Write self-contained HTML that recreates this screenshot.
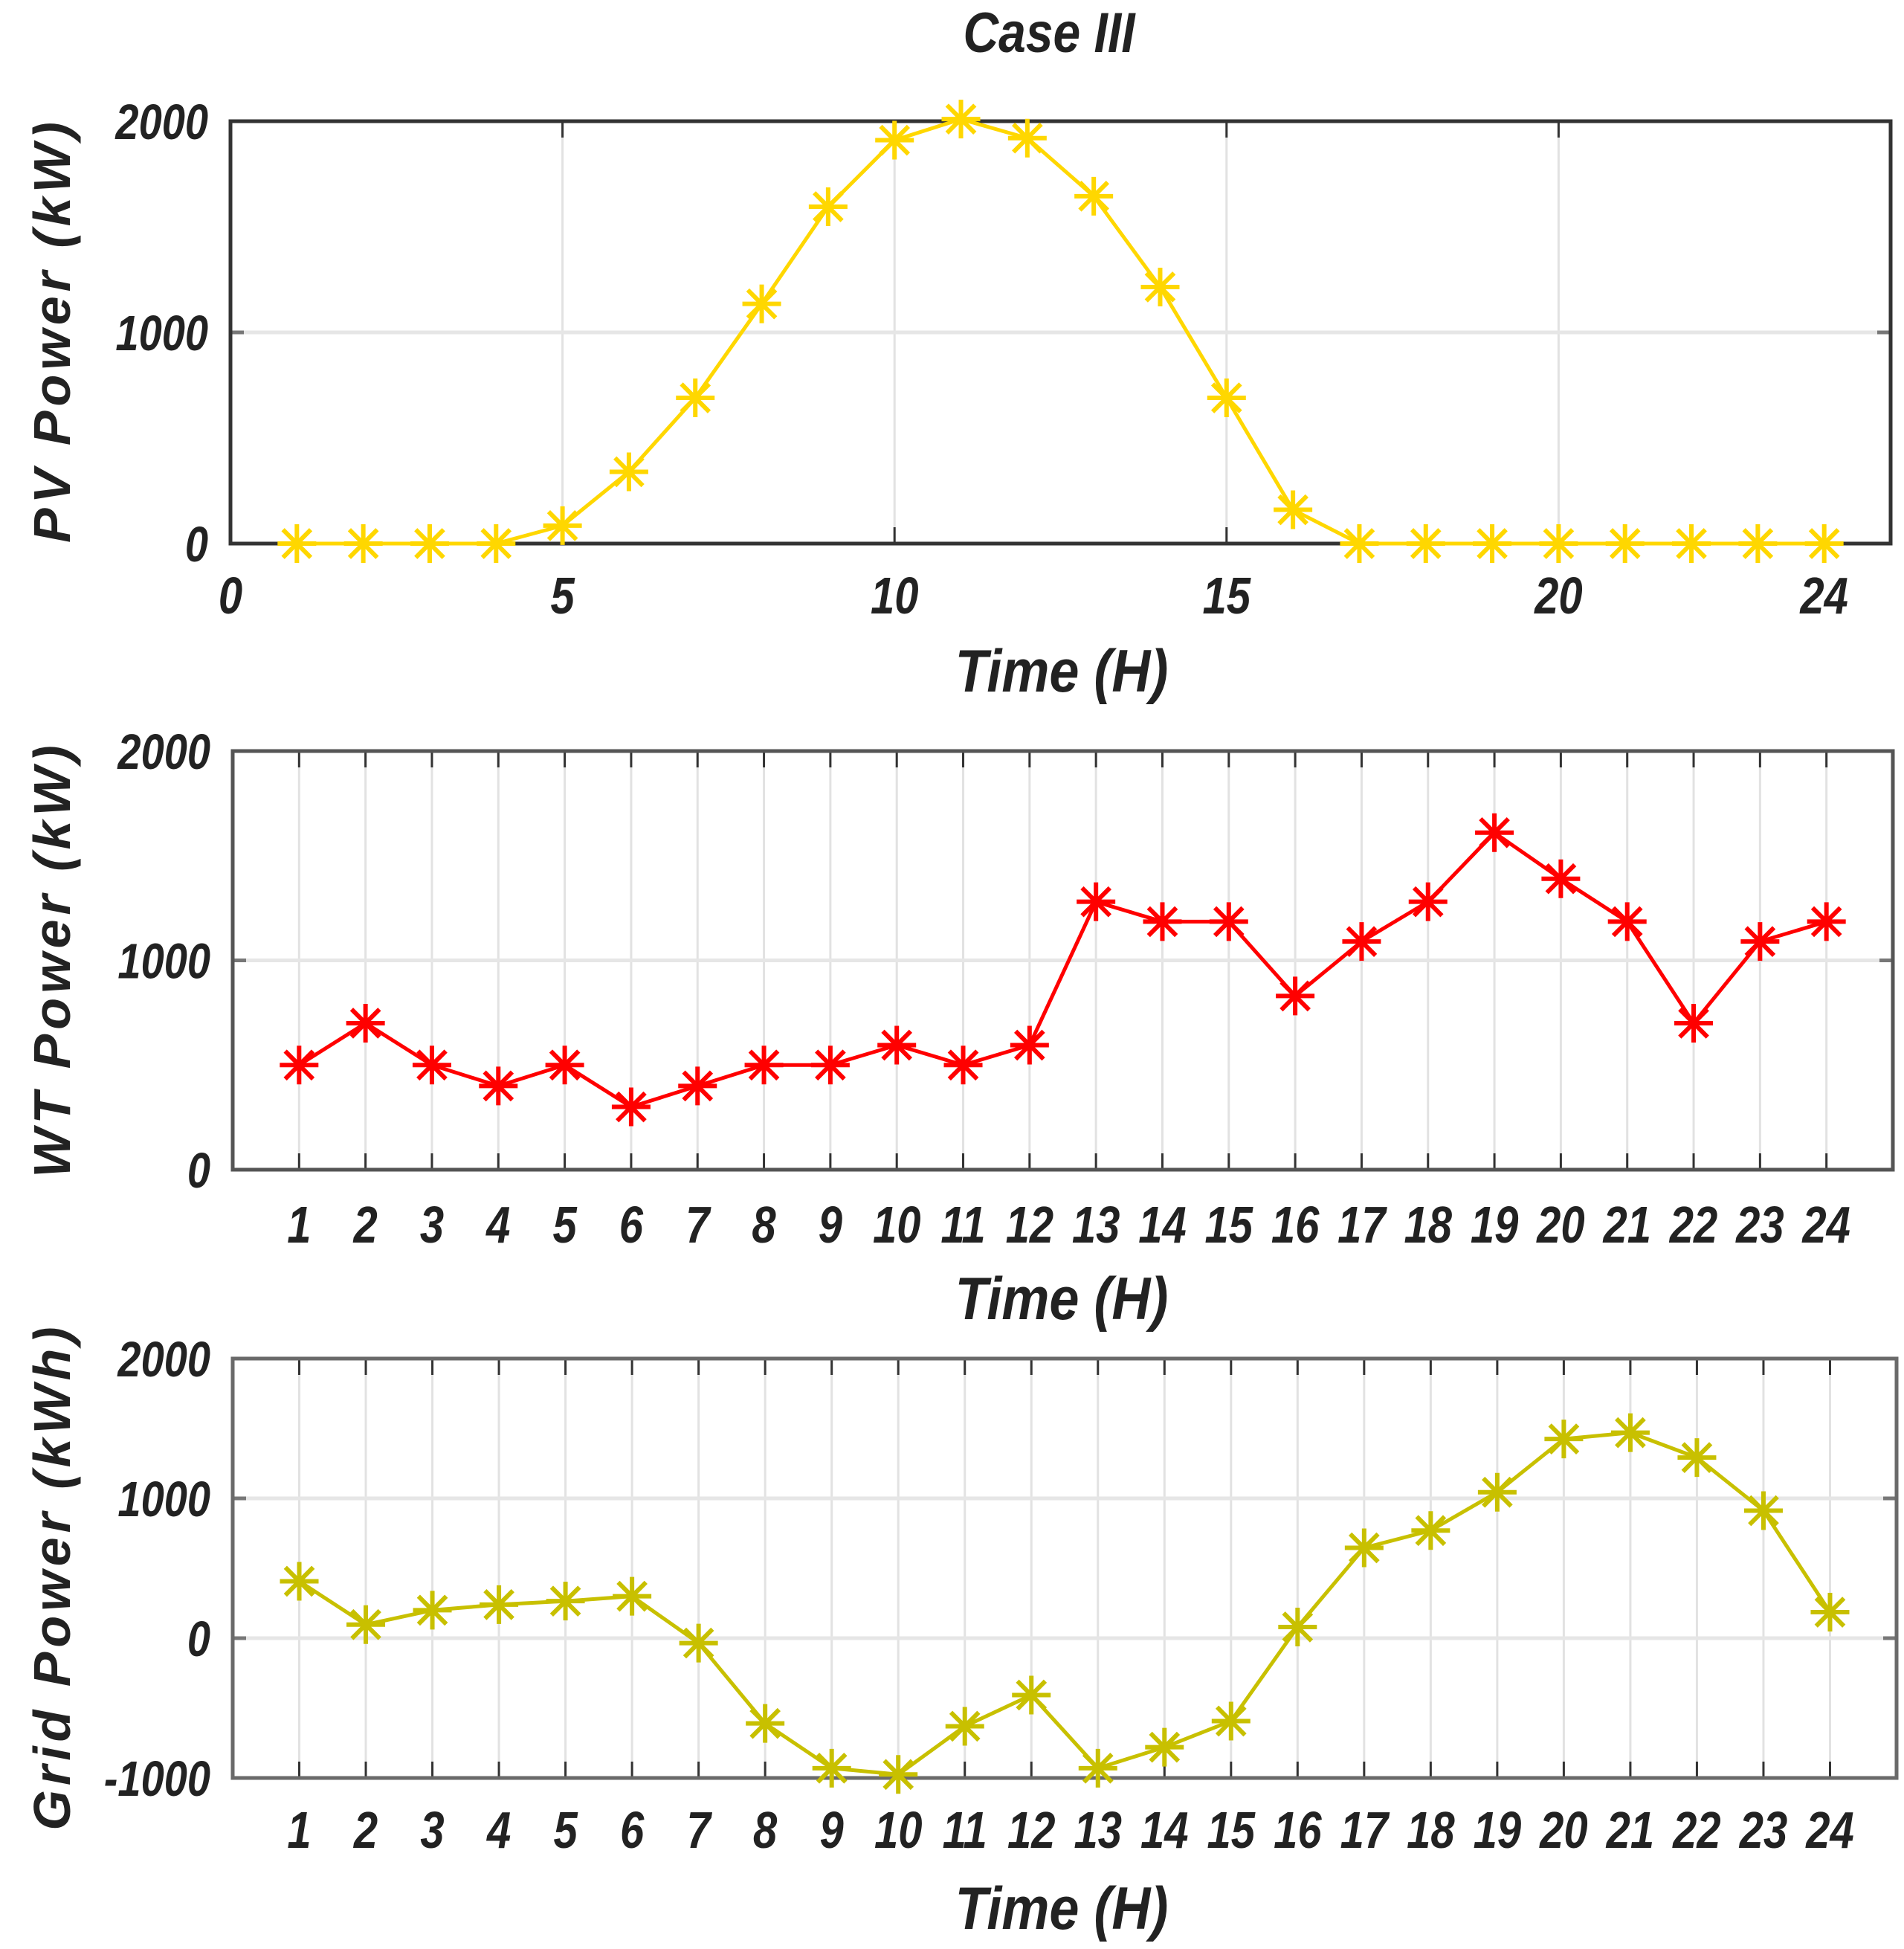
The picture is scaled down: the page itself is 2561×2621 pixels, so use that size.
<!DOCTYPE html>
<html><head><meta charset="utf-8"><style>
html,body{margin:0;padding:0;background:#fff}
svg{display:block}
text{font-family:"Liberation Sans",Arial,sans-serif;font-weight:bold;font-style:italic;fill:#222}
</style></head><body>
<svg id="fig" width="2561" height="2621" viewBox="0 0 2561 2621" xmlns="http://www.w3.org/2000/svg">
<text x="0" y="0" font-size="66" text-anchor="middle" transform="translate(1411,70) scale(1,1.15)">Case III</text>
</svg>
<script>
const hours = [1,2,3,4,5,6,7,8,9,10,11,12,13,14,15,16,17,18,19,20,21,22,23,24];
const pvValues = [0,0,0,0,85,340,690,1135,1595,1910,2010,1920,1645,1215,690,160,0,0,0,0,0,0,0,0];
const wtValues = [500,700,500,400,500,300,400,500,500,595,500,595,1280,1185,1185,830,1090,1280,1610,1390,1185,700,1090,1185];
const gridValues = [407,97,200,240,265,300,-35,-610,-930,-975,-630,-407,-930,-780,-593,80,646,770,1044,1425,1470,1292,912,186];
const pvXTicks = [0,5,10,15,20,24];
const hourTicks = [1,2,3,4,5,6,7,8,9,10,11,12,13,14,15,16,17,18,19,20,21,22,23,24];
const yTicksPower = [0,1000,2000];
const yTicksGrid = [-1000,0,1000,2000];

const NS = 'http://www.w3.org/2000/svg';
const svg = document.getElementById('fig');
function mk(tag, attrs, parent){
  const e = document.createElementNS(NS, tag);
  for (const k in attrs) e.setAttribute(k, attrs[k]);
  (parent||svg).appendChild(e);
  return e;
}

function panel(cfg){
  const g = mk('g', {});
  
  
  const {L,R,T,B,xmin,xmax,ymin,ymax} = cfg;
  const xs = v => L + (v - xmin) / (xmax - xmin) * (R - L);
  const ys = v => B - (v - ymin) / (ymax - ymin) * (B - T);
  cfg.xGrid.forEach(v => {
    const l = mk('line', {x1:xs(v), x2:xs(v), y1:T, y2:B, stroke:'#e2e2e2', 'stroke-width':3}, g);
    
    
    mk('line', {x1:xs(v), x2:xs(v), y1:B, y2:B-22, stroke:'#333', 'stroke-width':3}, g);
    mk('line', {x1:xs(v), x2:xs(v), y1:T, y2:T+22, stroke:'#333', 'stroke-width':3}, g);
  });
  cfg.yTicks.forEach(v => {
    if (v !== ymin && v !== ymax) {
      const l = mk('line', {x1:L, x2:R, y1:ys(v), y2:ys(v), stroke:'#e6e6e6', 'stroke-width':5}, g);
      
      
      mk('line', {x1:L, x2:L+18, y1:ys(v), y2:ys(v), stroke:'#777', 'stroke-width':5}, g);
      mk('line', {x1:R-18, x2:R, y1:ys(v), y2:ys(v), stroke:'#777', 'stroke-width':5}, g);
    }
    const t = mk('text', {x:0, y:0, 'font-size':56, 'text-anchor':'end',
      transform:'translate(' + (L-30) + ',' + (ys(v)+24) + ') scale(1,1.2)'}, g);
    t.textContent = v;
    
    
  });
  const box = mk('rect', {x:L, y:T, width:R-L, height:B-T, fill:'none', stroke:cfg.boxColor, 'stroke-width':5}, g);
  
  
  cfg.xTicks.forEach(v => {
    const t = mk('text', {x:0, y:0, 'font-size':58, 'text-anchor':'middle',
      transform:'translate(' + xs(v) + ',' + cfg.xLabelY + ') scale(1,1.2)'}, g);
    t.textContent = v;
    
    
  });
  const pts = hours.map((h,i) => xs(h) + ',' + ys(cfg.values[i])).join(' ');
  const pl = mk('polyline', {points:pts, fill:'none', stroke:cfg.color, 'stroke-width':5, 'stroke-linejoin':'round'}, g);
  
  
  hours.forEach((h,i) => {
    const cx = xs(h), cy = ys(cfg.values[i]), r = 26;
    const m = mk('g', {stroke:cfg.color, 'stroke-width':6}, g);
    
    
    mk('line', {x1:cx-r, x2:cx+r, y1:cy, y2:cy}, m);
    mk('line', {x1:cx, x2:cx, y1:cy-r, y2:cy+r}, m);
    const d = r*0.72;
    mk('line', {x1:cx-d, x2:cx+d, y1:cy-d, y2:cy+d}, m);
    mk('line', {x1:cx-d, x2:cx+d, y1:cy+d, y2:cy-d}, m);
  });
  const xl = mk('text', {x:0, y:0, 'font-size':72, 'text-anchor':'middle',
    transform:'translate(1428,' + cfg.xTitleY + ') scale(1,1.12)'}, g);
  xl.textContent = 'Time (H)';
  
  
  const yl = mk('text', {x:0, y:0, 'font-size':70, 'letter-spacing':6, 'text-anchor':'middle',
    transform:'translate(94,' + cfg.yTitleY + ') rotate(-90)'}, g);
  yl.textContent = cfg.yTitle;
  
  
}

panel({name:'pv-panel', L:310, R:2543, T:163, B:731, xmin:0, xmax:25, ymin:0, ymax:2000,
  xGrid:[5,10,15,20], xTicks:pvXTicks, yTicks:yTicksPower, values:pvValues, color:'#FFD700',
  seriesName:'pv-power-line', xLabelY:825, xTitleY:930, yTitle:'PV Power (kW)', yTitleY:444, boxColor:'#333'});
panel({name:'wt-panel', L:313, R:2546, T:1010, B:1573, xmin:0, xmax:25, ymin:0, ymax:2000,
  xGrid:hourTicks, xTicks:hourTicks, yTicks:yTicksPower, values:wtValues, color:'#FF0000',
  seriesName:'wt-power-line', xLabelY:1671, xTitleY:1774, yTitle:'WT Power (kW)', yTitleY:1290, boxColor:'#555'});
panel({name:'grid-panel', L:313, R:2551, T:1827, B:2391, xmin:0, xmax:25, ymin:-1000, ymax:2000,
  xGrid:hourTicks, xTicks:hourTicks, yTicks:yTicksGrid, values:gridValues, color:'#C8C000',
  seriesName:'grid-power-line', xLabelY:2485, xTitleY:2594, yTitle:'Grid Power (kWh)', yTitleY:2120, boxColor:'#6a6a6a'});
</script>
</body></html>
